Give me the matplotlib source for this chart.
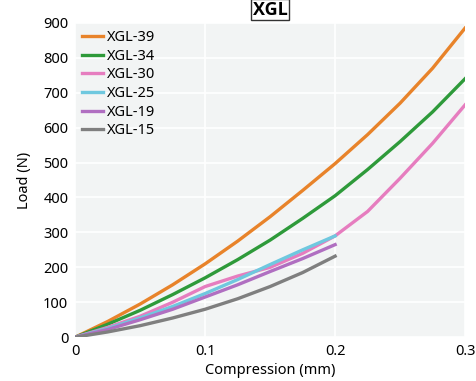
import numpy as np
import matplotlib
matplotlib.use("Agg")
import matplotlib.pyplot as plt

plt.rcParams['font.family'] = ['Noto Sans', 'DejaVu Sans']

# datos (compresion en mm, carga en N)
x_long = [0, 0.025, 0.05, 0.075, 0.1, 0.125, 0.15, 0.175, 0.2, 0.225, 0.25, 0.275, 0.3]
x_short = [0, 0.025, 0.05, 0.075, 0.1, 0.125, 0.15, 0.175, 0.2]

xgl39 = [0, 45, 95, 150, 210, 275, 345, 420, 497, 580, 670, 770, 885]
xgl34 = [0, 37, 77, 122, 170, 222, 278, 340, 405, 480, 560, 645, 740]
xgl30 = [0, 28, 60, 100, 145, 175, 200, 240, 290, 360, 455, 555, 665]
xgl25 = [0, 25, 55, 88, 125, 165, 208, 250, 290]
xgl19 = [0, 22, 50, 80, 115, 150, 188, 225, 265]
xgl15 = [0, 15, 33, 55, 80, 110, 145, 185, 232]

fig = plt.figure(figsize=(4.76, 3.81), dpi=100)
ax = fig.add_axes([0.158, 0.115, 0.819, 0.825])
ax.set_facecolor('#f2f4f4')

ax.plot(x_long, xgl39, color='#e8832a', lw=2.4, label='XGL-39')
ax.plot(x_long, xgl34, color='#2e9a3a', lw=2.4, label='XGL-34')
ax.plot(x_long, xgl30, color='#e67dbf', lw=2.4, label='XGL-30')
ax.plot(x_short, xgl25, color='#6fc8df', lw=2.4, label='XGL-25')
ax.plot(x_short, xgl19, color='#b06fc1', lw=2.4, label='XGL-19')
ax.plot(x_short, xgl15, color='#7f7f7f', lw=2.4, label='XGL-15')

ax.set_xlim(0, 0.3)
ax.set_ylim(0, 900)
ax.set_xticks([0, 0.1, 0.2, 0.3])
ax.set_xticklabels(['0', '0.1', '0.2', '0.3'])
ax.set_yticks(range(0, 901, 100))
ax.grid(color='white', lw=1.2)
ax.set_axisbelow(True)
ax.tick_params(length=0, labelsize=10.5, pad=5)
for s in ax.spines.values():
    s.set_visible(False)

ax.set_xlabel('Compression (mm)', fontsize=10.5, labelpad=3)
ax.set_ylabel('Load (N)', fontsize=10.5, labelpad=8)
ax.set_title('XGL', fontsize=13, fontweight='bold', family=['Open Sans', 'DejaVu Sans'],
             pad=6, bbox=dict(facecolor='white', edgecolor='#333333', lw=1, pad=1.0))

ax.legend(loc='upper left', frameon=False, fontsize=10.5, handlelength=1.4,
          handletextpad=0.3, labelspacing=0.25, borderaxespad=0.2, borderpad=0.3)

plt.savefig('out.png', dpi=100)
